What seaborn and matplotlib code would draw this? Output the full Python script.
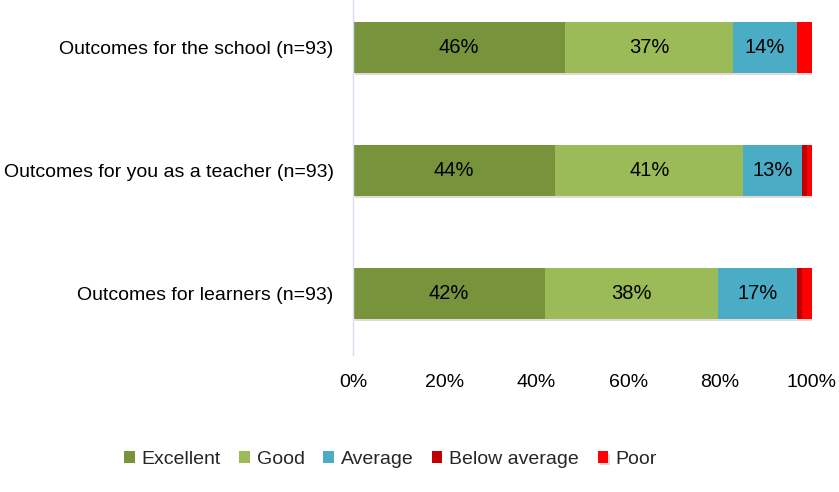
import numpy as np
import pandas as pd
import seaborn as sns
import matplotlib.pyplot as plt
import matplotlib.patheffects as pe

categories = ['Outcomes for the school (n=93)',
              'Outcomes for you as a teacher (n=93)',
              'Outcomes for learners (n=93)']
ratings = ['Excellent', 'Good', 'Average', 'Below average', 'Poor']
excellent = [46.2, 44.1, 41.9]
good = [36.6, 40.9, 37.6]
average = [14.0, 12.9, 17.2]
below_average = [0.0, 1.0, 1.1]
poor = [3.2, 1.1, 2.2]
labels = [['46%', '44%', '42%'], ['37%', '41%', '38%'], ['14%', '13%', '17%']]
colors = ['#77933c', '#9bbb59', '#4bacc6', '#c00000', '#ff0000']

sns.set_style('white')
plt.rcParams['font.family'] = ['Liberation Sans', 'DejaVu Sans']

df = pd.DataFrame({'category': categories, 'Excellent': excellent, 'Good': good,
                   'Average': average, 'Below average': below_average, 'Poor': poor})
cum = df[ratings].cumsum(axis=1)

fig = plt.figure(figsize=(8.39, 4.92), dpi=100)
ax = fig.add_axes([0.4207, 0.2785, 0.547, 0.75])

# stacked bars: draw the cumulative totals from the widest down
for r, c in reversed(list(zip(ratings, colors))):
    sns.barplot(x=cum[r], y=df['category'], color=c, width=0.41,
                saturation=1, ax=ax, label=r, linewidth=0, legend=False)

# soft drop shadow only on the full-length bars (drawn first)
for p in ax.patches[:len(categories)]:
    p.set_path_effects([pe.SimplePatchShadow(offset=(1.5, -2), alpha=0.15), pe.Normal()])

# value labels in the middle of the first three segments
for i, r in enumerate(ratings[:3]):
    left = cum[r] - df[r]
    for j in range(len(categories)):
        ax.text(left[j] + df[r][j] / 2, j, labels[i][j], ha='center', va='center',
                fontsize=14.5, color='black')

ax.set_xlim(0, 100)
ax.set_ylim(2.5, -0.5)
ax.set_xticks(range(0, 101, 20))
ax.set_xticklabels([f'{v}%' for v in range(0, 101, 20)])
ax.set_xlabel('')
ax.set_ylabel('')
ax.tick_params(axis='both', length=0, labelsize=14, colors='black')
ax.tick_params(axis='x', pad=14)
ax.tick_params(axis='y', pad=14)
for s in ['top', 'right', 'bottom']:
    ax.spines[s].set_visible(False)
ax.spines['left'].set_color('#d9dcef')
ax.spines['left'].set_linewidth(1)
if ax.get_legend() is not None:
    ax.get_legend().remove()

handles, lbls = ax.get_legend_handles_labels()
order = [lbls.index(r) for r in ratings]
fig.legend([handles[k] for k in order], ratings, loc='center', ncol=5,
           bbox_to_anchor=(0.465, 0.067), frameon=False, fontsize=14,
           handlelength=0.55, handleheight=0.55, handletextpad=0.35, columnspacing=0.95)

fig.savefig('out.png', dpi=100)
